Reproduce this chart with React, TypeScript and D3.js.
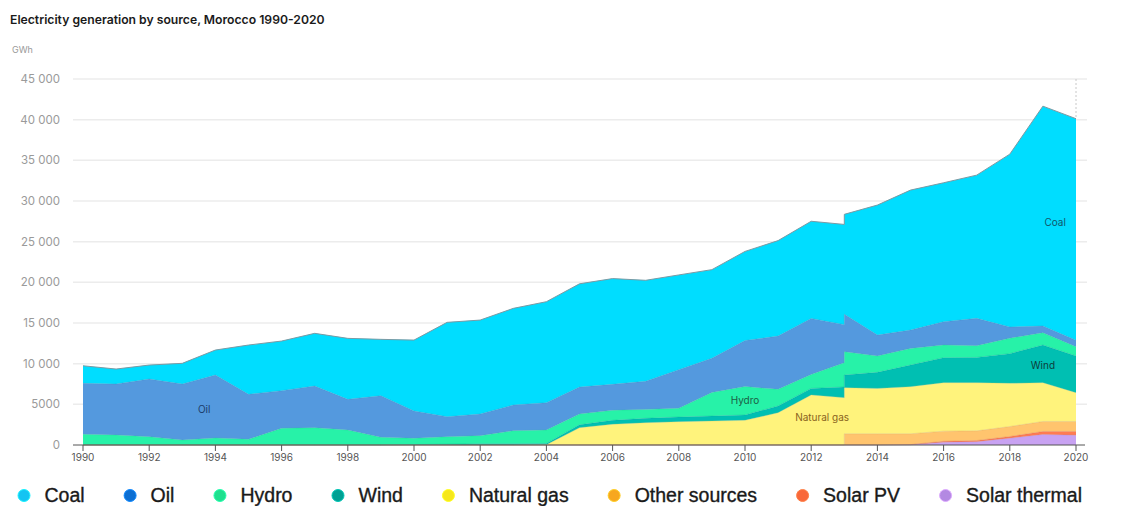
import React, { useEffect, useRef } from "react";
import * as d3 from "d3";

// x positions (2013 appears twice: series break)
const years = [1990,1991,1992,1993,1994,1995,1996,1997,1998,1999,2000,2001,2002,2003,2004,2005,2006,2007,2008,2009,2010,2011,2012,2013,2013,2014,2015,2016,2017,2018,2019,2020];

const solarThermal = [0,0,0,0,0,0,0,0,0,0,0,0,0,0,0,0,0,0,0,0,0,0,0,0,0,0,30,350,400,840,1290,1210];
const solarPV = [0,0,0,0,0,0,0,0,0,0,0,0,0,0,0,0,0,0,0,0,0,0,0,0,0,0,20,100,150,200,370,450];
const otherSources = [0,0,0,0,0,0,0,0,0,0,0,0,0,0,0,0,0,0,0,0,0,0,0,0,1380,1380,1330,1250,1190,1230,1230,1230];
const naturalGas = [0,0,0,0,0,0,0,0,0,0,0,0,0,0,30,2130,2540,2740,2870,2950,3030,3970,6150,5820,5670,5580,5790,5960,5920,5310,4770,3540];
const wind = [0,0,0,0,0,0,0,0,0,0,50,100,150,150,150,350,490,540,570,610,660,820,810,1310,1550,1970,2660,3070,3110,3650,4630,4510];
const hydro = [1310,1230,1020,610,860,700,2050,2130,1840,940,770,920,1000,1610,1660,1340,1230,1100,1070,2900,3500,2050,1720,2990,2870,2010,2050,1560,1440,1900,1510,1140];
const oil = [6270,6270,7090,6890,7740,5530,4630,5120,3770,5120,3360,2460,2660,3160,3360,3300,3200,3450,4750,4200,5650,6550,6880,4680,4600,2580,2250,2870,3360,1380,830,790];
const coal = [2160,1840,1720,2540,3075,6060,6100,6480,7500,6930,8720,11600,11550,11880,12420,12700,13000,12420,11650,10900,10960,11740,11950,12320,12290,15980,17210,17080,17610,21250,27030,27250];

const seriesNames = ["Solar thermal","Solar PV","Other sources","Natural gas","Wind","Hydro","Oil","Coal"];
const seriesValues = [solarThermal, solarPV, otherSources, naturalGas, wind, hydro, oil, coal];
const areaColors = ["#c8a2f2","#ff7b52","#ffc46e","#fff37c","#00bfb2","#27f2a8","#5499de","#00ddff"];

const legendNames = ["Coal","Oil","Hydro","Wind","Natural gas","Other sources","Solar PV","Solar thermal"];
const legendColors = ["#14c4f2","#0d6fd2","#1fe08e","#00a093","#f6e71c","#f7a71f","#f9683a","#b389e2"];

const yTicks = [0,5000,10000,15000,20000,25000,30000,35000,40000,45000];
const yTickLabels = ["0","5000","10 000","15 000","20 000","25 000","30 000","35 000","40 000","45 000"];
const xTicks = [1990,1992,1994,1996,1998,2000,2002,2004,2006,2008,2010,2012,2014,2016,2018,2020];

const areaLabels = [
  { text: "Oil", year: 1993.66, value: 4420, color: "#1c3d6a" },
  { text: "Hydro", year: 2010.0, value: 5410, color: "#1d5e45" },
  { text: "Natural gas", year: 2012.33, value: 3440, color: "#8a6420" },
  { text: "Wind", year: 2019.0, value: 9830, color: "#0d3d3a" },
  { text: "Coal", year: 2019.37, value: 27400, color: "#11566b" },
];

const W = 1122, H = 506;

export default function App() {
  const ref = useRef<SVGSVGElement | null>(null);
  useEffect(() => {
    document.body.style.margin = "0";
    const svg = d3.select(ref.current);
    svg.selectAll("*").remove();
    const x = d3.scaleLinear().domain([1990, 2020]).range([83, 1076]);
    const y = d3.scaleLinear().domain([0, 45000]).range([445, 79]);
    const font = "Inter, 'Open Sans', sans-serif";

    svg.append("text").attr("x", 10).attr("y", 24).text("Electricity generation by source, Morocco 1990-2020")
      .attr("font-family", font).attr("font-size", 12.2).attr("font-weight", 600).attr("fill", "#1a1a1a");
    svg.append("text").attr("x", 12).attr("y", 53).text("GWh")
      .attr("font-family", font).attr("font-size", 9).attr("fill", "#999");

    // grid
    const g = svg.append("g");
    yTicks.forEach((t, i) => {
      if (t > 0) g.append("line").attr("x1", 73).attr("x2", 1087).attr("y1", y(t)).attr("y2", y(t))
        .attr("stroke", "#ececec").attr("stroke-width", 1.5);
      g.append("text").attr("x", 60).attr("y", y(t)).attr("dy", "0.35em").attr("text-anchor", "end")
        .text(yTickLabels[i]).attr("font-family", font).attr("font-size", 11.5).attr("fill", "#9a9a9a");
    });

    // stack
    const rows = years.map((yr, i) => {
      const r: any = { year: yr };
      seriesNames.forEach((n, k) => (r[n] = seriesValues[k][i]));
      return r;
    });
    const stacked = d3.stack().keys(seriesNames)(rows as any);
    const area = d3.area<any>().x((d) => x(d.data.year)).y0((d) => y(d[0])).y1((d) => y(d[1]));
    const line = d3.line<any>().x((d) => x(d.data.year)).y((d) => y(d[1]));
    stacked.forEach((s, k) => {
      svg.append("path").attr("d", area(s as any) as string).attr("fill", areaColors[k]);
    });
    stacked.forEach((s, k) => {
      const c = d3.color(areaColors[k])!.darker(0.6).toString();
      if (k === 7) {
        svg.append("path").attr("d", line(s as any) as string).attr("fill", "none")
          .attr("stroke", "#7b9aa4").attr("stroke-width", 1);
      } else {
        svg.append("path").attr("d", line(s as any) as string).attr("fill", "none")
          .attr("stroke", c).attr("stroke-width", 0.6).attr("stroke-opacity", 0.5);
      }
    });

    // dotted line at 2020
    const topLast = stacked[7][years.length - 1][1];
    svg.append("line").attr("x1", x(2020)).attr("x2", x(2020)).attr("y1", y(45000)).attr("y2", y(topLast))
      .attr("stroke", "#c8c8c8").attr("stroke-dasharray", "2,2").attr("stroke-width", 1);

    // x axis
    svg.append("line").attr("x1", 73).attr("x2", 1085).attr("y1", y(0)).attr("y2", y(0))
      .attr("stroke", "#555").attr("stroke-width", 1);
    xTicks.forEach((t) => {
      svg.append("line").attr("x1", x(t)).attr("x2", x(t)).attr("y1", y(0)).attr("y2", y(0) + 6)
        .attr("stroke", "#555").attr("stroke-width", 1);
      svg.append("text").attr("x", x(t)).attr("y", 461).attr("text-anchor", "middle").text(String(t))
        .attr("font-family", font).attr("font-size", 10).attr("fill", "#555");
    });

    // area labels
    areaLabels.forEach((l) => {
      svg.append("text").attr("x", x(l.year)).attr("y", y(l.value)).attr("dy", "0.35em")
        .attr("text-anchor", "middle").text(l.text).attr("font-family", font)
        .attr("font-size", 10).attr("fill", l.color);
    });

    // legend
    let cx = 24;
    legendNames.forEach((n, i) => {
      svg.append("circle").attr("cx", cx).attr("cy", 495.5).attr("r", 6).attr("fill", legendColors[i])
        .attr("stroke", d3.color(legendColors[i])!.brighter(0.6).toString()).attr("stroke-width", 1);
      const t = svg.append("text").attr("x", cx + 20.5).attr("y", 495.5).attr("dy", "0.35em").text(n)
        .attr("font-family", "'Liberation Sans', Arial, sans-serif").attr("font-size", 19.5)
        .attr("fill", "#1a1a1a").attr("stroke", "#1a1a1a").attr("stroke-width", 0.35);
      const w = (t.node() as SVGTextElement).getComputedTextLength();
      cx = cx + 20.5 + w + 45.5;
    });
  }, []);
  return <svg ref={ref} width={W} height={H} style={{ display: "block", background: "#fff" }} />;
}
